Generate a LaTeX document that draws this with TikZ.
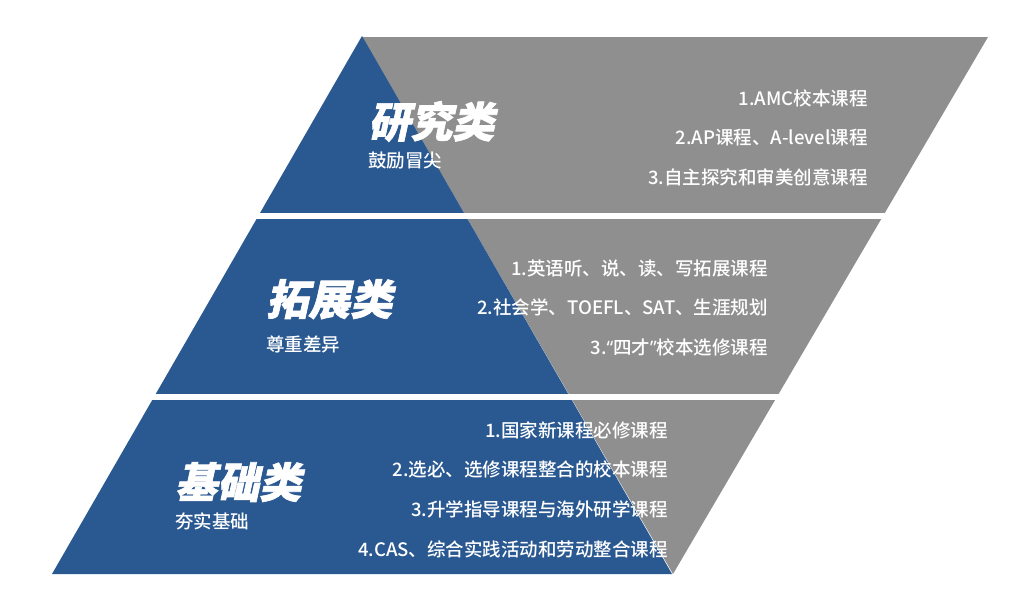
\documentclass[tikz,border=0pt]{standalone}
\usepackage{fontspec}
\newfontfamily\cjk{Noto Sans CJK SC Medium}
\newfontfamily\cjkheavy[FakeSlant=0.22, FakeBold=1.5]{Noto Sans CJK SC Black}
\newfontfamily\latin{Noto Sans}
\usetikzlibrary{positioning}
\definecolor{pyrblue}{RGB}{42,88,145}
\definecolor{pyrgrey}{RGB}{143,143,143}

\begin{document}
\begin{tikzpicture}[x=1pt,y=-1pt]
  \tikzset{TitleStyle/.style = {text        = white,
                                inner sep   = 0pt,
                                anchor      = base west,
                                font        = \cjkheavy\fontsize{42}{42}\selectfont},
           SubStyle/.style   = {text        = white,
                                inner sep   = 0pt,
                                anchor      = base west,
                                font        = \cjk\fontsize{18.5}{18.5}\selectfont},
           ItemStyle/.style  = {text        = white,
                                inner sep   = 0pt,
                                text height = 14pt,
                                text depth  = 4.5pt,
                                font        = \cjk\fontsize{18.5}{18.5}\selectfont}}
  \useasboundingbox (0,0) rectangle (1031,603);
  %%% FOND %%%
  \fill[pyrgrey] (362,37) -- (988,37) -- (673,574) -- cycle;
  \fill[pyrblue] (362,36) -- (672,574) -- (52,574) -- cycle;
  \fill[white] (0,212.5) rectangle (1031,218.5);
  \fill[white] (0,393.5) rectangle (1031,399.5);
  %%% ETAGE DU HAUT %%%
  \node[TitleStyle](yj) at (368,137.5) {研究类};
  \node[SubStyle, below=30pt of yj.base west, anchor=base west](yjsub){鼓励冒尖};
  %
  \node[ItemStyle, anchor=base east](yj1) at (868,105) {1.AMC校本课程};
  \node[ItemStyle, below=21pt of yj1.south east, anchor=north east](yj2){2.AP课程、A-level课程};
  \node[ItemStyle, below=21pt of yj2.south east, anchor=north east](yj3){3.自主探究和审美创意课程};
  %%% ETAGE DU MILIEU %%%
  \node[TitleStyle](tz) at (266,315) {拓展类};
  \node[SubStyle, below=36pt of tz.base west, anchor=base west](tzsub){尊重差异};
  %
  \node[ItemStyle, anchor=base east](tz1) at (768,275) {1.英语听、说、读、写拓展课程};
  \node[ItemStyle, below=21pt of tz1.south east, anchor=north east](tz2){2.社会学、TOEFL、SAT、生涯规划};
  \node[ItemStyle, below=21pt of tz2.south east, anchor=north east](tz3){3.{\latin “}四才{\latin ”}校本选修课程};
  %%% ETAGE DU BAS %%%
  \node[TitleStyle](jc) at (175,498) {基础类};
  \node[SubStyle, below=30pt of jc.base west, anchor=base west](jcsub){夯实基础};
  %
  \node[ItemStyle, anchor=base east](jc1) at (668,437) {1.国家新课程必修课程};
  \node[ItemStyle, below=21pt of jc1.south east, anchor=north east](jc2){2.选必、选修课程整合的校本课程};
  \node[ItemStyle, below=21pt of jc2.south east, anchor=north east](jc3){3.升学指导课程与海外研学课程};
  \node[ItemStyle, below=21pt of jc3.south east, anchor=north east](jc4){4.CAS、综合实践活动和劳动整合课程};
\end{tikzpicture}
\end{document}
